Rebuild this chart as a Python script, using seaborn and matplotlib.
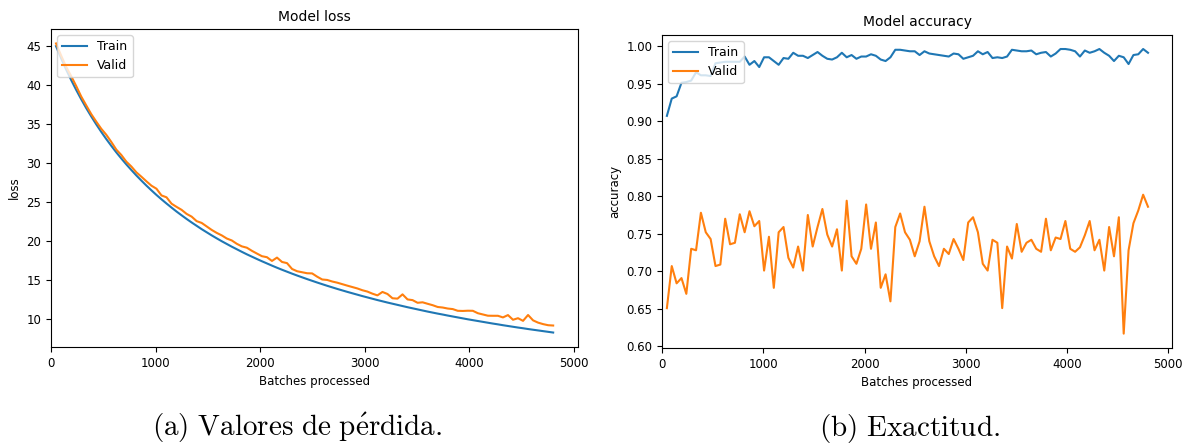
import numpy as np
import pandas as pd
import matplotlib
matplotlib.use("Agg")
import matplotlib.pyplot as plt
import seaborn as sns

plt.rcParams['font.family'] = ['DejaVu Sans']
plt.rcParams['mathtext.fontset'] = 'cm'

# ---------------- data ----------------
loss_train = [45.00, 43.46, 42.02, 40.67, 39.40, 38.20, 37.06, 35.99, 34.97, 34.00,
              33.08, 32.21, 31.37, 30.58, 29.82, 29.10, 28.40, 27.74, 27.10, 26.49,
              25.90, 25.34, 24.80, 24.28, 23.77, 23.29, 22.82, 22.37, 21.94, 21.51,
              21.11, 20.71, 20.33, 19.96, 19.61, 19.26, 18.93, 18.60, 18.28, 17.98,
              17.68, 17.39, 17.11, 16.83, 16.56, 16.30, 16.05, 15.80, 15.56, 15.33,
              15.10, 14.88, 14.66, 14.45, 14.24, 14.04, 13.84, 13.65, 13.46, 13.28,
              13.10, 12.92, 12.75, 12.58, 12.41, 12.25, 12.09, 11.94, 11.79, 11.64,
              11.49, 11.35, 11.21, 11.07, 10.93, 10.80, 10.67, 10.55, 10.42, 10.30,
              10.18, 10.06, 9.94, 9.83, 9.72, 9.61, 9.50, 9.39, 9.29, 9.18,
              9.08, 8.98, 8.88, 8.79, 8.69, 8.60, 8.51, 8.42, 8.33, 8.24]
loss_valid = [45.35, 43.81, 42.37, 41.17, 39.90, 38.55, 37.41, 36.29, 35.32, 34.40,
              33.63, 32.71, 31.72, 31.03, 30.17, 29.55, 28.80, 28.24, 27.65, 27.09,
              26.70, 25.84, 25.60, 24.78, 24.37, 23.99, 23.47, 23.12, 22.54, 22.31,
              21.86, 21.41, 21.03, 20.71, 20.31, 20.06, 19.63, 19.30, 19.13, 18.73,
              18.38, 18.04, 17.91, 17.43, 17.86, 17.30, 17.15, 16.40, 16.11, 15.98,
              15.85, 15.83, 15.41, 15.05, 14.99, 14.79, 14.64, 14.45, 14.26, 14.08,
              13.90, 13.67, 13.50, 13.23, 13.01, 13.45, 13.19, 12.64, 12.59, 13.14,
              12.49, 12.40, 12.06, 12.12, 11.93, 11.75, 11.52, 11.45, 11.32, 11.25,
              11.03, 11.01, 11.04, 11.03, 10.72, 10.56, 10.40, 10.39, 10.39, 10.18,
              10.48, 9.88, 10.08, 9.74, 10.49, 9.80, 9.51, 9.32, 9.18, 9.14]
loss_batches = list(range(48, 48 * len(loss_train) + 1, 48))

acc_train = [0.907, 0.930, 0.933, 0.951, 0.952, 0.954, 0.965, 0.961, 0.961, 0.960,
             0.977, 0.978, 0.979, 0.979, 0.979, 0.979, 0.986, 0.975, 0.980, 0.972,
             0.985, 0.985, 0.980, 0.975, 0.984, 0.983, 0.991, 0.987, 0.987, 0.984,
             0.988, 0.992, 0.987, 0.983, 0.982, 0.985, 0.991, 0.985, 0.988, 0.983,
             0.986, 0.986, 0.989, 0.987, 0.982, 0.980, 0.985, 0.995, 0.995, 0.994,
             0.993, 0.993, 0.988, 0.993, 0.990, 0.989, 0.988, 0.987, 0.986, 0.990,
             0.989, 0.983, 0.985, 0.987, 0.993, 0.989, 0.992, 0.984, 0.985, 0.984,
             0.986, 0.995, 0.994, 0.993, 0.993, 0.994, 0.989, 0.991, 0.992, 0.986,
             0.990, 0.996, 0.996, 0.995, 0.993, 0.986, 0.994, 0.991, 0.993, 0.996,
             0.991, 0.987, 0.980, 0.987, 0.985, 0.976, 0.988, 0.989, 0.996, 0.991]
acc_valid = [0.651, 0.707, 0.684, 0.691, 0.670, 0.730, 0.728, 0.778, 0.752, 0.743,
             0.707, 0.709, 0.770, 0.736, 0.738, 0.776, 0.752, 0.780, 0.760, 0.767,
             0.701, 0.746, 0.678, 0.752, 0.759, 0.718, 0.705, 0.733, 0.701, 0.775,
             0.733, 0.759, 0.783, 0.749, 0.733, 0.756, 0.701, 0.794, 0.720, 0.710,
             0.730, 0.789, 0.730, 0.765, 0.678, 0.696, 0.660, 0.759, 0.777, 0.752,
             0.742, 0.720, 0.740, 0.786, 0.740, 0.720, 0.707, 0.730, 0.723, 0.743,
             0.730, 0.715, 0.765, 0.772, 0.752, 0.710, 0.701, 0.742, 0.738, 0.651,
             0.733, 0.717, 0.763, 0.726, 0.738, 0.742, 0.730, 0.726, 0.770, 0.728,
             0.745, 0.743, 0.767, 0.730, 0.726, 0.732, 0.748, 0.767, 0.728, 0.742,
             0.701, 0.759, 0.720, 0.772, 0.617, 0.728, 0.764, 0.781, 0.802, 0.786]
acc_batches = list(range(48, 48 * len(acc_train) + 1, 48))

series_names = ["Train", "Valid"]
colors = ["#1f77b4", "#ff7f0e"]
titles = ["Model loss", "Model accuracy"]
ylabels = ["loss", "accuracy"]
xlabel = "Batches processed"
captions = [r"$\mathrm{(a)\ Valores\ de\ p\acute{e}rdida.}$", r"$\mathrm{(b)\ Exactitud.}$"]

loss_df = pd.DataFrame({
    "batch": loss_batches * 2,
    "value": loss_train + loss_valid,
    "series": [series_names[0]] * len(loss_train) + [series_names[1]] * len(loss_valid),
})
acc_df = pd.DataFrame({
    "batch": acc_batches * 2,
    "value": acc_train + acc_valid,
    "series": [series_names[0]] * len(acc_train) + [series_names[1]] * len(acc_valid),
})

# ---------------- figure ----------------
fig = plt.figure(figsize=(11.95, 4.46), dpi=100)
ax1 = fig.add_axes([0.0427, 0.222, 0.441, 0.713])
ax2 = fig.add_axes([0.554, 0.220, 0.4268, 0.702])

fs = 8.5
for ax, df, title, ylab in [(ax1, loss_df, titles[0], ylabels[0]),
                            (ax2, acc_df, titles[1], ylabels[1])]:
    sns.lineplot(data=df, x="batch", y="value", hue="series",
                 palette=colors, estimator=None, linewidth=1.5, ax=ax)
    ax.set_title(title, fontsize=10)
    ax.set_xlabel(xlabel, fontsize=fs)
    ax.set_ylabel(ylab, fontsize=fs)
    ax.tick_params(labelsize=fs)
    handles, labels = ax.get_legend_handles_labels()
    ax.legend(handles, labels, loc="upper left", fontsize=9, title=None)
    ax.set_facecolor("white")
    ax.set_xlim(left=0)

fig.text(0.249, 0.04, captions[0], fontsize=21, ha="center", va="center")
fig.text(0.761, 0.04, captions[1], fontsize=21, ha="center", va="center")

fig.savefig("out.png", dpi=100, facecolor="white")
